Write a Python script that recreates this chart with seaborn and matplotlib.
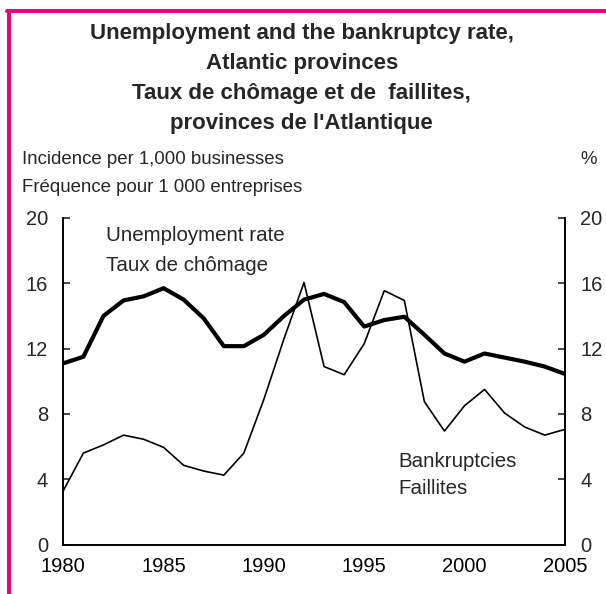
import numpy as np
import pandas as pd
import matplotlib
matplotlib.use("Agg")
import matplotlib.pyplot as plt
import seaborn as sns
from matplotlib.lines import Line2D

# ------------------------------------------------------------------
# Data
# ------------------------------------------------------------------
years = list(range(1980, 2006))
unemployment = [11.1, 11.5, 14.0, 14.95, 15.2, 15.7, 15.0, 13.85, 12.15, 12.15,
                12.85, 14.0, 15.0, 15.35, 14.85, 13.35, 13.75, 13.95, 12.85, 11.7,
                11.2, 11.7, 11.45, 11.2, 10.9, 10.45]
bankruptcies = [3.3, 5.6, 6.1, 6.7, 6.45, 5.95, 4.85, 4.5, 4.25, 5.6,
                8.9, 12.6, 16.05, 10.9, 10.4, 12.3, 15.55, 14.95, 8.75, 6.95,
                8.5, 9.5, 8.05, 7.2, 6.7, 7.05]
x_ticks = [1980, 1985, 1990, 1995, 2000, 2005]
y_ticks = [0, 4, 8, 12, 16, 20]

df = pd.DataFrame({"year": years, "unemp": unemployment, "bankr": bankruptcies})

sns.set_style("white")
plt.rcParams["font.family"] = ["Liberation Sans", "DejaVu Sans"]

PINK = "#E6007E"
FS = 13.4       # units text
FS_LAB = 14.8   # series labels
FS_TICK = 14.5
FS_TITLE = 16.0

fig = plt.figure(figsize=(6.06, 5.94), dpi=100)
ax = fig.add_axes([0.1045, 0.0833, 0.8275, 0.5497])

sns.lineplot(data=df, x="year", y="unemp", ax=ax, color="black", linewidth=3.0)
sns.lineplot(data=df, x="year", y="bankr", ax=ax, color="black", linewidth=1.2)

ax.set_xlim(1980, 2005)
ax.set_ylim(0, 20)
ax.set_xticks(years, minor=True)
ax.set_xticks(x_ticks)
ax.set_yticks(y_ticks)
ax.set_xlabel("")
ax.set_ylabel("")

for side in ["left", "right", "bottom"]:
    ax.spines[side].set_visible(True)
    ax.spines[side].set_color("black")
    ax.spines[side].set_linewidth(1.4)
ax.spines["top"].set_visible(False)

ax.tick_params(axis="x", which="both", direction="in", length=4, width=1.2,
               labelsize=FS_TICK, pad=9, colors="black")
ax.tick_params(axis="y", direction="in", length=5, width=1.2, labelsize=FS_TICK,
               left=True, right=True, labelleft=True, labelright=True, pad=11)

# series labels
ax.text(1982.15, 18.6, "Unemployment rate", fontsize=FS_LAB)
ax.text(1982.15, 16.75, "Taux de chômage", fontsize=FS_LAB)
ax.text(1996.7, 4.75, "Bankruptcies", fontsize=FS_LAB)
ax.text(1996.7, 3.1, "Faillites", fontsize=FS_LAB)

# title and units
title = ["Unemployment and the bankruptcy rate,",
         "Atlantic provinces",
         "Taux de chômage et de  faillites,",
         "provinces de l'Atlantique"]
for i, line in enumerate(title):
    fig.text(0.498, 1 - (33 + 30 * i) / 594, line, ha="center", va="center",
             fontsize=FS_TITLE, fontweight="bold")

fig.text(22 / 606, 1 - 160 / 594, "Incidence per 1,000 businesses",
         fontsize=FS, va="center")
fig.text(22 / 606, 1 - 188 / 594, "Fréquence pour 1 000 entreprises",
         fontsize=FS, va="center")
fig.text(597 / 606, 1 - 160 / 594, "%", fontsize=FS, va="center", ha="right")

# pink frame (left and top)
fig.add_artist(Line2D([8.5 / 606, 8.5 / 606], [0, 1 - 10.5 / 594],
                      transform=fig.transFigure, color=PINK, linewidth=2.8))
fig.add_artist(Line2D([7.2 / 606, 1], [1 - 10.5 / 594, 1 - 10.5 / 594],
                      transform=fig.transFigure, color=PINK, linewidth=2.8))

fig.savefig("out.png", dpi=100)
